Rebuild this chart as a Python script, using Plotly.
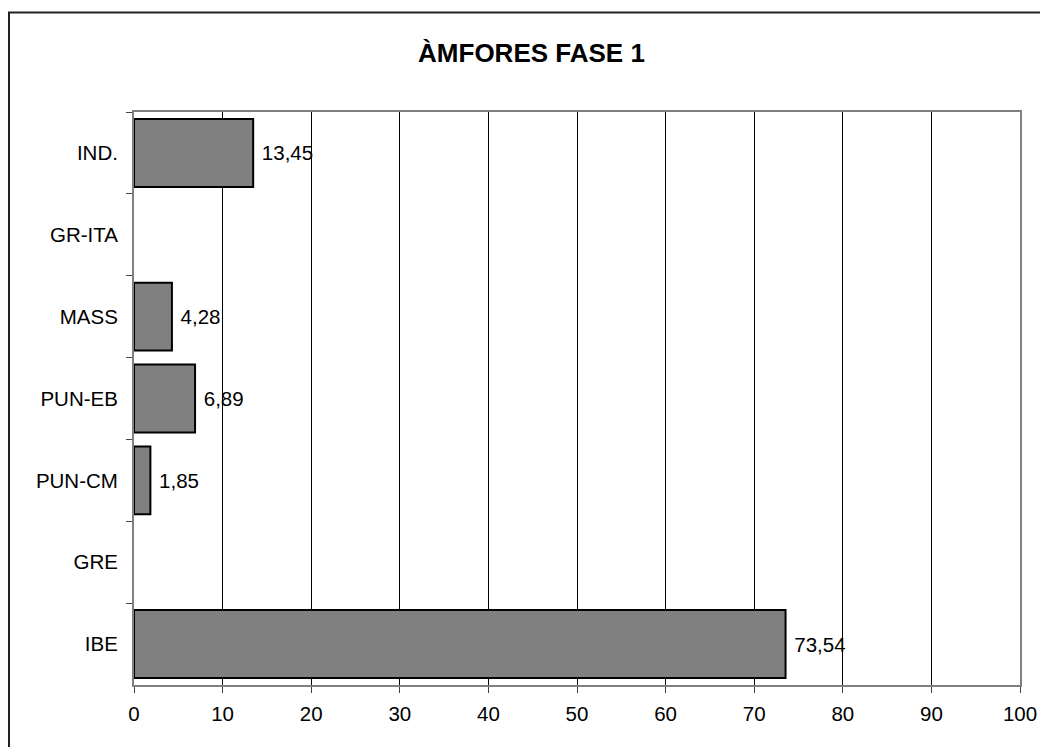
import plotly.graph_objects as go

categories = ["IND.", "GR-ITA", "MASS", "PUN-EB", "PUN-CM", "GRE", "IBE"]
values = [13.45, None, 4.28, 6.89, 1.85, None, 73.54]
x_ticks = [0, 10, 20, 30, 40, 50, 60, 70, 80, 90, 100]
title_text = "ÀMFORES FASE 1"

labels = [("" if v is None else " " + f"{v:.2f}".replace(".", ",")) for v in values]

# page body has an 8px margin, so figure coords = screen coords - 8
W, H = 1040, 739
L, R, T, B = 126, 28, 104, 62
pw, ph = W - L - R, H - T - B
FONT = "Liberation Sans, Arial"
FS = 20.5

fig = go.Figure()
fig.add_trace(go.Bar(
    x=values, y=categories, orientation="h",
    marker=dict(color="#808080", line=dict(color="#000000", width=2)),
    text=labels, textposition="outside", cliponaxis=False,
    textfont=dict(family=FONT, size=FS, color="#000"),
    hoverinfo="skip",
))

fig.update_layout(
    width=W, height=H,
    margin=dict(l=L, r=R, t=T, b=B),
    paper_bgcolor="white", plot_bgcolor="white",
    bargap=0.17, showlegend=False,
    font=dict(family=FONT, size=FS, color="#000"),
    title=dict(text="<b>" + title_text + "</b>", x=523.5 / W, xanchor="center",
               y=1 - 45 / H, yanchor="middle",
               font=dict(family=FONT, size=26, color="#000")),
    xaxis=dict(range=[0, 100], tickvals=x_ticks, ticktext=[str(t) for t in x_ticks],
               showgrid=True, gridcolor="#000", gridwidth=1,
               showline=True, linecolor="#808080", linewidth=2, mirror=True,
               ticks="outside", ticklen=6, tickcolor="#444", tickwidth=1,
               ticklabelstandoff=3, zeroline=False, fixedrange=True),
    yaxis=dict(autorange="reversed", type="category",
               showgrid=False, showline=True, linecolor="#808080", linewidth=2, mirror=True,
               ticks="outside", ticklen=6, tickcolor="#444", tickwidth=1,
               tickson="boundaries", ticklabelstandoff=10, fixedrange=True),
    shapes=[dict(type="rect", xref="paper", yref="paper",
                 x0=(1 - L) / pw, x1=(W + 30 - L) / pw,
                 y0=(H - B - (H + 30)) / ph, y1=(H - B - 4.5) / ph,
                 line=dict(color="#222", width=2), fillcolor="rgba(0,0,0,0)", layer="below")],
)

fig.write_html("out.html")
